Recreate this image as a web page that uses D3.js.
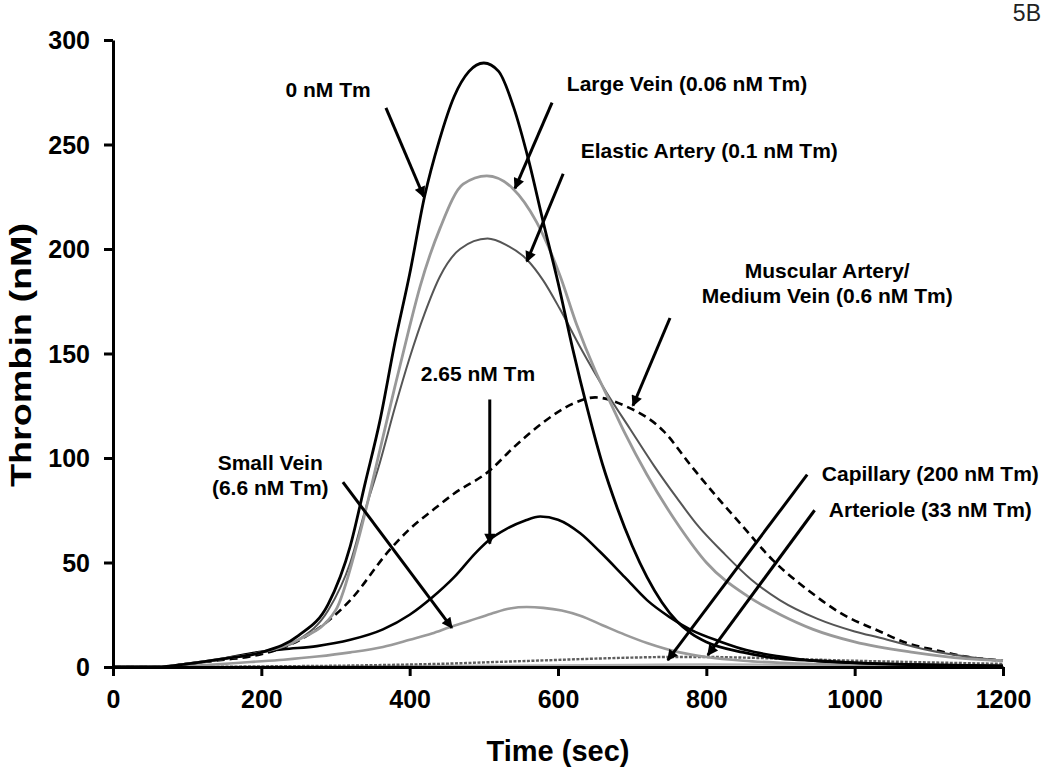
<!DOCTYPE html>
<html>
<head>
<meta charset="utf-8">
<script src="https://cdn.jsdelivr.net/npm/d3@7"></script>
<style>
  body { margin: 0; background: #fff; }
  svg { font-family: "Liberation Sans", Arial, sans-serif; }
</style>
</head>
<body>
<svg id="renderer" width="1050" height="769"></svg>
<script>
// [time (sec), thrombin (nM)]
const tm0 = [[0,0],[60,0],[100,1.5],[150,4],[200,7],[250,15],[290,30],[320,58],[340,88],[360,118],[380,155],[400,188],[420,225],[440,252],[460,273],[480,285],[500,289],[520,285],[540,268],[560,243],[580,213],[600,184],[620,152],[640,123],[660,97],[680,76],[700,58],[720,43],[740,31],[760,22],[780,16],[800,12],[850,7],[900,4],[950,3],[1000,2],[1100,1],[1200,0.5]];
const largeVein = [[0,0],[60,0],[100,1.5],[150,4],[200,7],[250,13],[300,27],[330,60],[360,104],[380,134],[400,163],[414,182],[441,210],[472,231],[504,235],[539,229],[571,213],[603,187],[625,164],[650,142],[670,127],[690,112],[720,92],[764,67],[800,50],[855,34],[900,25],[944,18],[1000,12],[1079,7],[1150,4],[1200,3]];
const elastic = [[0,0],[60,0],[100,1.5],[150,4],[200,7],[250,13],[290,27],[320,50],[340,75],[360,98],[380,124],[400,148],[420,169],[441,187],[468,200],[505,205],[530,202],[558,195],[580,185],[603,171],[630,153],[666,131],[697,114],[730,96],[760,81],[790,67],[822,55],[860,42],[899,32],[950,23],[1000,17],[1034,14],[1100,8],[1150,5],[1200,3]];
const muscular = [[0,0],[60,0],[100,1.5],[150,3.5],[185,5],[252,13],[290,22],[320,32],[373,56],[400,66],[431,75],[460,83],[508,94],[540,105],[580,117],[620,126],[650,129],[690,125],[742,113],[780,96],[820,79],[845,69],[890,51],[940,36],[980,26],[1034,17],[1070,11.5],[1110,8],[1150,5],[1200,3]];
const tm265 = [[0,0],[60,0],[100,1.5],[150,4],[185,6.5],[230,8.5],[275,10],[320,13],[364,18],[400,25],[431,33.5],[460,43],[490,55],[508,61],[530,66],[555,70],[576,72],[600,70.5],[630,64],[657,55],[690,43],[720,32],[750,24],[778,18],[820,12],[855,8],[900,5],[944,3],[1000,2],[1100,1],[1200,0.5]];
const smallVein = [[0,0],[80,0],[120,0.8],[185,2.4],[230,3.5],[275,5],[320,7],[364,9.6],[400,13],[430,16],[454,19],[480,22],[510,25.5],[535,28],[558,28.7],[580,28.3],[605,27],[630,24.5],[660,20],[690,15.5],[720,11.5],[764,7],[800,4.8],[850,3],[900,2],[1000,1],[1200,0.5]];
const arteriole = [[0,0],[100,0],[200,0.3],[300,0.6],[400,1.2],[450,1.6],[500,2.2],[550,2.8],[600,3.4],[650,4],[700,4.5],[750,4.8],[800,4.8],[850,4.5],[900,4],[950,3.5],[1000,3],[1100,2.2],[1200,1.5]];
const capillary = [[0,0],[100,0],[300,0.3],[500,0.6],[700,1],[800,1.2],[900,1.1],[1000,1],[1200,0.6]];

const xTicks = [0, 200, 400, 600, 800, 1000, 1200];
const yTicks = [0, 50, 100, 150, 200, 250, 300];

// annotation text: [lines, t, v] (label centre in data units)
const labels = [
    [['0 nM Tm'], 290, 276],
    [['Large Vein (0.06 nM Tm)'], 774, 279],
    [['Elastic Artery (0.1 nM Tm)'], 804, 247],
    [['Muscular Artery/', 'Medium Vein (0.6 nM Tm)'], 963, 189.5],
    [['2.65 nM Tm'], 492, 140],
    [['Small Vein', '(6.6 nM Tm)'], 212, 97.6],
    [['Capillary (200 nM Tm)'], 1102, 92.3],
    [['Arteriole (33 nM Tm)'], 1102, 75]
];
// arrows: [t0, v0, t1, v1]
const arrows = [
    [368, 267.5, 419, 225],
    [592, 270, 542, 229],
    [607, 236, 558, 194],
    [751, 167, 701, 125],
    [508, 128, 508, 59],
    [310, 88.5, 457, 18.7],
    [936, 92, 748, 3.3],
    [946, 75, 802, 5.7]
];

const svg = d3.select('#renderer');

const x = d3.scaleLinear().domain([0, 1200]).range([113, 1003]);
const y = d3.scaleLinear().domain([0, 300]).range([667, 40]);

let line = d3.line()
    .x(function (d) { return x(d[0]); })
    .y(function (d) { return y(d[1]); })
    .curve(d3.curveMonotoneX);

let series = [
    { data: capillary, stroke: '#b0b0b0', width: 2.4, dash: null },
    { data: arteriole, stroke: '#5e5e5e', width: 2.4, dash: '3,1.5' },
    { data: smallVein, stroke: '#9a9a9a', width: 2.6, dash: null },
    { data: tm265, stroke: '#000', width: 2.6, dash: null },
    { data: muscular, stroke: '#000', width: 2.6, dash: '8,5' },
    { data: elastic, stroke: '#555', width: 2, dash: null },
    { data: largeVein, stroke: '#999', width: 2.8, dash: null },
    { data: tm0, stroke: '#000', width: 2.8, dash: null }
];

series.forEach(function (s) {
    svg.append('path')
        .attr('d', line(s.data))
        .attr('fill', 'none')
        .attr('stroke', s.stroke)
        .attr('stroke-width', s.width)
        .attr('stroke-dasharray', s.dash);
});

// axes
let xAxis = svg.append('g')
    .attr('transform', 'translate(0,' + y(0) + ')')
    .call(d3.axisBottom(x).tickValues(xTicks).tickFormat(d3.format('d'))
        .tickSize(9).tickPadding(14).tickSizeOuter(0));
let yAxis = svg.append('g')
    .attr('transform', 'translate(' + x(0) + ',0)')
    .call(d3.axisLeft(y).tickValues(yTicks).tickFormat(d3.format('d'))
        .tickSize(9).tickPadding(14).tickSizeOuter(0));

[xAxis, yAxis].forEach(function (a) {
    a.select('.domain').attr('stroke', '#000').attr('stroke-width', 3);
    a.selectAll('.tick line').attr('stroke', '#000').attr('stroke-width', 3);
    a.selectAll('.tick text')
        .attr('fill', '#000')
        .style('font-size', '25px')
        .style('font-weight', 'bold')
        .style('font-family', '"Liberation Sans", Arial, sans-serif');
});
yAxis.selectAll('.tick text').attr('dy', '0.35em');

svg.append('text')
    .attr('x', 558).attr('y', 761)
    .attr('text-anchor', 'middle')
    .style('font-size', '29px').style('font-weight', 'bold')
    .text('Time (sec)');

svg.append('text')
    .attr('transform', 'translate(31,355) rotate(-90)')
    .attr('text-anchor', 'middle')
    .attr('textLength', 264)
    .attr('lengthAdjust', 'spacingAndGlyphs')
    .style('font-size', '30px').style('font-weight', 'bold')
    .text('Thrombin (nM)');

svg.append('text')
    .attr('x', 1041).attr('y', 21)
    .attr('text-anchor', 'end')
    .attr('fill', '#222')
    .style('font-size', '23px')
    .text('5B');

// arrows
svg.append('defs').append('marker')
    .attr('id', 'head')
    .attr('viewBox', '0 0 10 10')
    .attr('refX', 9).attr('refY', 5)
    .attr('markerUnits', 'userSpaceOnUse')
    .attr('markerWidth', 13).attr('markerHeight', 11)
    .attr('orient', 'auto')
    .append('path')
    .attr('d', 'M0,0 L10,5 L0,10 Z')
    .attr('fill', '#000');

arrows.forEach(function (a) {
    svg.append('line')
        .attr('x1', x(a[0])).attr('y1', y(a[1]))
        .attr('x2', x(a[2])).attr('y2', y(a[3]))
        .attr('stroke', '#000')
        .attr('stroke-width', 3)
        .attr('marker-end', 'url(#head)');
});

// annotation labels
labels.forEach(function (l) {
    let t = svg.append('text')
        .attr('text-anchor', 'middle')
        .style('font-size', '21px')
        .style('font-weight', 'bold');
    l[0].forEach(function (str, i) {
        t.append('tspan')
            .attr('x', x(l[1]))
            .attr('y', y(l[2]) + i * 25 + 7)
            .text(str);
    });
});
</script>
</body>
</html>
